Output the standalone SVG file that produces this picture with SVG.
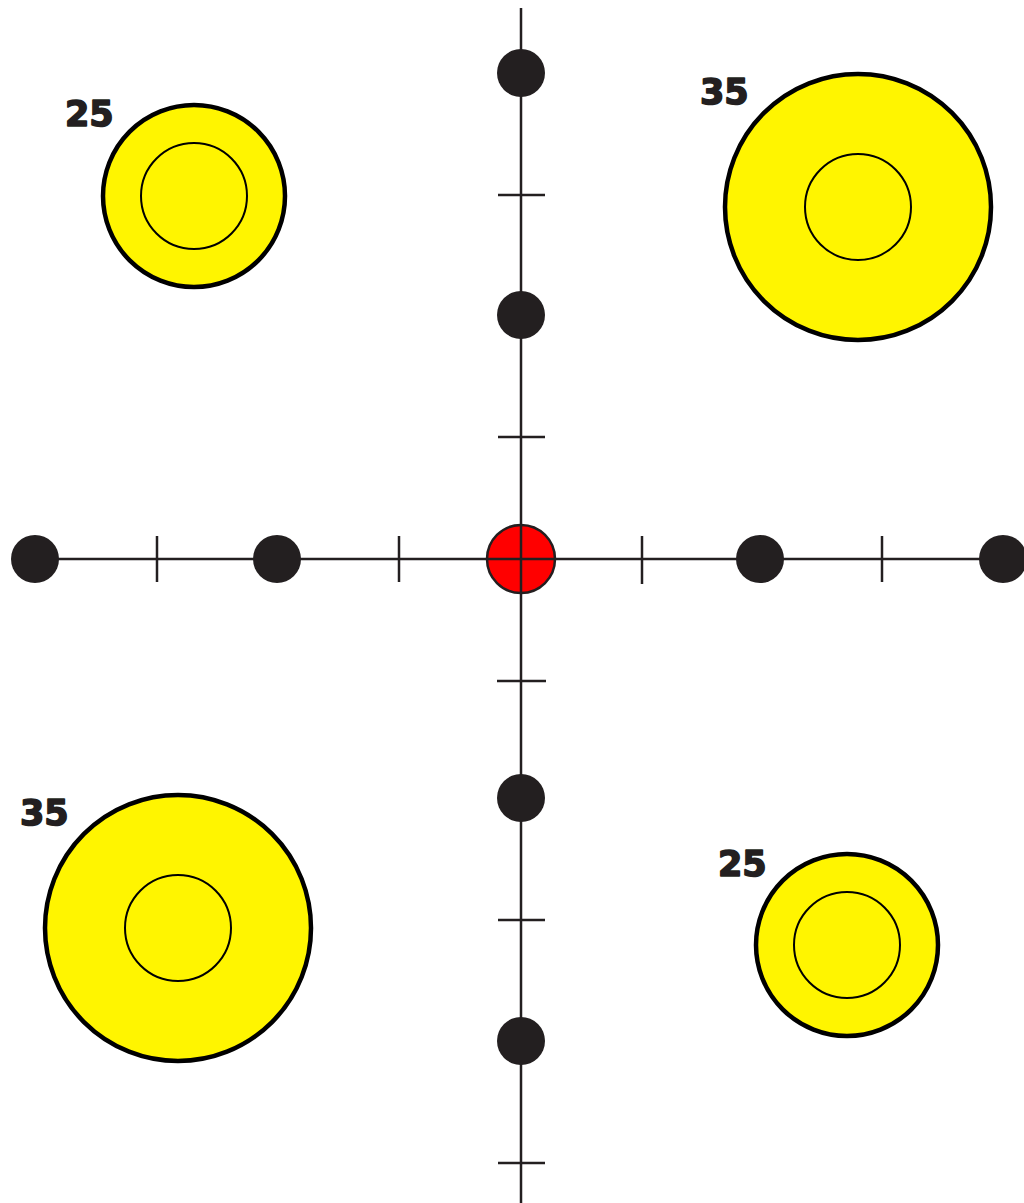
<svg xmlns="http://www.w3.org/2000/svg" width="1024" height="1203" viewBox="0 0 1024 1203">
<style>
.ax{stroke:#231F20;stroke-width:2.5;fill:none}
.dot{fill:#231F20}
.outer{fill:#FFF500;stroke:#000;stroke-width:4.5}
.inner{fill:none;stroke:#000;stroke-width:2}
.lbl{font-family:"DejaVu Sans",sans-serif;font-weight:bold;font-size:35px;fill:#231F20;stroke:#231F20;stroke-width:1.6;stroke-linejoin:round}
</style>
<rect width="1024" height="1203" fill="#fff"/>
<g id="connectors">
<line class="ax" x1="521" y1="8" x2="521" y2="1203"/>
<line class="ax" x1="35" y1="559" x2="1003" y2="559"/>
<line class="ax" x1="498" y1="195" x2="545" y2="195"/>
<line class="ax" x1="498" y1="437" x2="545" y2="437"/>
<line class="ax" x1="497" y1="681" x2="546" y2="681"/>
<line class="ax" x1="498" y1="920" x2="545" y2="920"/>
<line class="ax" x1="498" y1="1163" x2="545" y2="1163"/>
<line class="ax" x1="157" y1="536" x2="157" y2="582"/>
<line class="ax" x1="399" y1="536" x2="399" y2="582"/>
<line class="ax" x1="642" y1="536" x2="642" y2="584"/>
<line class="ax" x1="882" y1="536" x2="882" y2="582"/>
</g>
<g id="dot-n2"><circle class="dot" cx="521" cy="73" r="24"/></g>
<g id="dot-n1"><circle class="dot" cx="521" cy="315" r="24"/></g>
<g id="dot-s1"><circle class="dot" cx="521" cy="798" r="24"/></g>
<g id="dot-s2"><circle class="dot" cx="521" cy="1041" r="24"/></g>
<g id="dot-w2"><circle class="dot" cx="35" cy="559" r="24"/></g>
<g id="dot-w1"><circle class="dot" cx="277" cy="559" r="24"/></g>
<g id="dot-e1"><circle class="dot" cx="760" cy="559" r="24"/></g>
<g id="dot-e2"><circle class="dot" cx="1003" cy="559" r="24"/></g>
<g id="center">
<circle cx="521" cy="559" r="34" fill="#FF0000" stroke="#231F20" stroke-width="2.5"/>
<line class="ax" x1="521" y1="525" x2="521" y2="593"/>
<line class="ax" x1="487" y1="559" x2="555" y2="559"/>
</g>
<g id="target-tl">
<circle class="outer" cx="194" cy="196" r="91"/>
<circle class="inner" cx="194" cy="196" r="53"/>
<text class="lbl" x="65" y="126">25</text>
</g>
<g id="target-tr">
<circle class="outer" cx="858" cy="207" r="133"/>
<circle class="inner" cx="858" cy="207" r="53"/>
<text class="lbl" x="700" y="104">35</text>
</g>
<g id="target-bl">
<circle class="outer" cx="178" cy="928" r="133"/>
<circle class="inner" cx="178" cy="928" r="53"/>
<text class="lbl" x="20" y="825">35</text>
</g>
<g id="target-br">
<circle class="outer" cx="847" cy="945" r="91"/>
<circle class="inner" cx="847" cy="945" r="53"/>
<text class="lbl" x="718" y="876">25</text>
</g>
</svg>
